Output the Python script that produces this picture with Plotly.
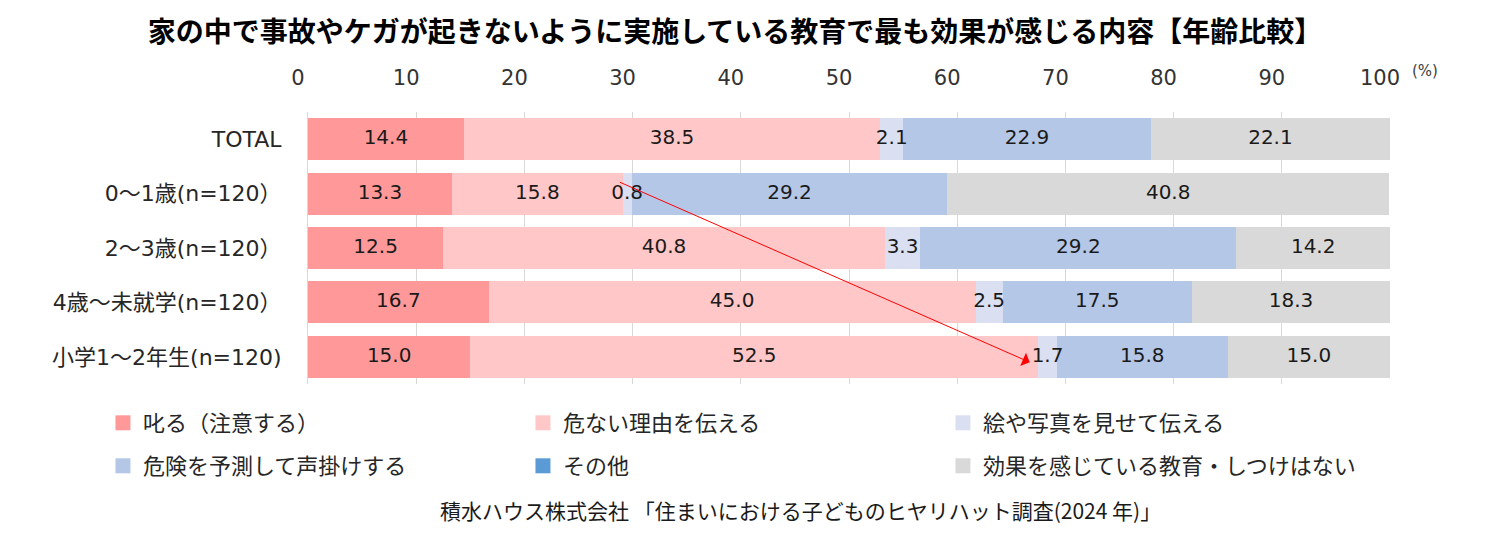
import plotly.graph_objects as go

# 年齢比較のデータ (%)
categories = ["TOTAL", "0～1歳(n=120）", "2～3歳(n=120）", "4歳～未就学(n=120）", "小学1～2年生(n=120)"]
series_names = ["叱る（注意する）", "危ない理由を伝える", "絵や写真を見せて伝える",
                "危険を予測して声掛けする", "その他", "効果を感じている教育・しつけはない"]
shikaru = [14.4, 13.3, 12.5, 16.7, 15.0]
abunai = [38.5, 15.8, 40.8, 45.0, 52.5]
eya = [2.1, 0.8, 3.3, 2.5, 1.7]
kiken = [22.9, 29.2, 29.2, 17.5, 15.8]
sonota = [0.0, 0.0, 0.0, 0.0, 0.0]
nashi = [22.1, 40.8, 14.2, 18.3, 15.0]
tick_vals = list(range(0, 101, 10))

values = [shikaru, abunai, eya, kiken, sonota, nashi]
colors = ["#FF9999", "#FFC7C7", "#DAE0F2", "#B4C7E7", "#5B9BD5", "#D9D9D9"]

FONT = "DejaVu Sans, Noto Sans CJK JP"
CJK = "Noto Sans CJK JP"

fig = go.Figure()
for name, vals, col in zip(series_names, values, colors):
    fig.add_trace(go.Bar(
        y=categories, x=vals, name=name, orientation="h",
        marker=dict(color=col, line=dict(width=0)),
        showlegend=False, hoverinfo="x+name",
    ))

# 数値ラベル（バーの上に重ねる）
lab_x, lab_y, lab_t = [], [], []
for i, cat in enumerate(categories):
    left = 0.0
    for vals in values:
        v = vals[i]
        if v > 0:
            lab_x.append(left + v / 2)
            lab_y.append(cat)
            lab_t.append(f"{v:.1f}")
        left += v
fig.add_trace(go.Scatter(
    x=lab_x, y=lab_y, text=lab_t, mode="text",
    textfont=dict(size=20, color="#1a1a1a", family=FONT),
    showlegend=False, hoverinfo="skip", cliponaxis=False,
))

# 凡例（2段×3列）
for k, (name, col) in enumerate(zip(series_names, colors)):
    fig.add_trace(go.Scatter(
        x=[None], y=[None], mode="markers", name=name,
        marker=dict(symbol="square", size=15, color=col),
        legend="legend" if k < 3 else "legend2",
    ))

# 矢印: 0～1歳 と 小学1～2年生 の「危ない理由を伝える」の終点を結ぶ
start_x = shikaru[1] + abunai[1]
end_x = shikaru[4] + abunai[4]
fig.add_annotation(
    x=end_x - 0.8, y=4.1, ax=start_x - 0.4, ay=0.78,
    xref="x", yref="y", axref="x", ayref="y",
    showarrow=True, arrowhead=1, arrowsize=2.4, arrowwidth=1,
    arrowcolor="#FF0000", text="",
)

fig.add_annotation(
    x=1.0, y=1.0, xref="paper", yref="paper", xshift=20, yshift=30,
    text="(%)", showarrow=False, xanchor="left", yanchor="bottom",
    font=dict(size=15, color="#404040", family=FONT),
)
fig.add_annotation(
    x=492 / 1082, y=-126 / 272, xref="paper", yref="paper",
    text="積水ハウス株式会社 「住まいにおける子どものヒヤリハット調査(2024 年)」",
    showarrow=False, xanchor="center", yanchor="middle",
    font=dict(size=21, color="#1a1a1a", family=CJK),
)

legend_common = dict(
    orientation="h", x=-0.1895, xanchor="left", yanchor="middle",
    entrywidth=375, entrywidthmode="pixels", itemwidth=30,
    traceorder="normal", bgcolor="rgba(0,0,0,0)",
    font=dict(size=22, color="#262626", family=CJK),
)

fig.update_layout(
    width=1500, height=534,
    barmode="stack", bargap=0.23,
    paper_bgcolor="white", plot_bgcolor="white",
    margin=dict(l=300, r=118, t=104, b=158),
    font=dict(family=FONT, color="#262626"),
    title=dict(
        text="<b>家の中で事故やケガが起きないように実施している教育で最も効果が感じる内容【年齢比較】</b>",
        x=727 / 1500, xanchor="center", y=1 - 24 / 534, yanchor="middle",
        font=dict(size=28, color="#000000", family=CJK),
    ),
    xaxis=dict(
        side="top", range=[0, 100], tickvals=tick_vals,
        showgrid=True, gridcolor="#D9D9D9", gridwidth=1,
        zeroline=False, showline=False, ticks="",
        ticklabelstandoff=22, ticklabelshift=-10,
        tickfont=dict(size=21, color="#333333", family=FONT),
    ),
    yaxis=dict(
        autorange="reversed", showline=True, linecolor="#D9D9D9",
        ticks="", ticklabelstandoff=21,
        tickfont=dict(size=22, color="#262626", family=FONT),
    ),
    legend=dict(legend_common, y=-39 / 272),
    legend2=dict(legend_common, y=-82 / 272),
    showlegend=True,
)

fig.write_html("out.html")
